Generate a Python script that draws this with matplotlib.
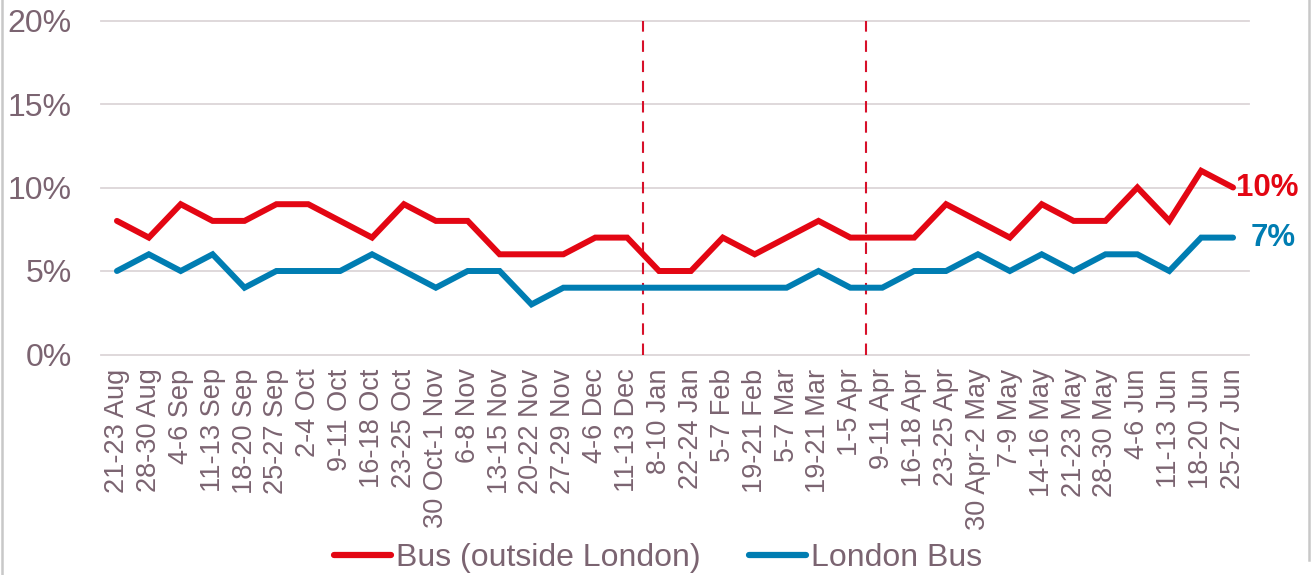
import matplotlib
matplotlib.use("Agg")
import matplotlib.pyplot as plt
from matplotlib.lines import Line2D

plt.rcParams['font.family'] = ['Liberation Sans', 'DejaVu Sans']

weeks = ["21-23 Aug", "28-30 Aug", "4-6 Sep", "11-13 Sep", "18-20 Sep", "25-27 Sep",
         "2-4 Oct", "9-11 Oct", "16-18 Oct", "23-25 Oct", "30 Oct-1 Nov", "6-8 Nov",
         "13-15 Nov", "20-22 Nov", "27-29 Nov", "4-6 Dec", "11-13 Dec", "8-10 Jan",
         "22-24 Jan", "5-7 Feb", "19-21 Feb", "5-7 Mar", "19-21 Mar", "1-5 Apr",
         "9-11 Apr", "16-18 Apr", "23-25 Apr", "30 Apr-2 May", "7-9 May", "14-16 May",
         "21-23 May", "28-30 May", "4-6 Jun", "11-13 Jun", "18-20 Jun", "25-27 Jun"]

bus_outside_london = [8, 7, 9, 8, 8, 9, 9, 8, 7, 9, 8, 8, 6, 6, 6, 7, 7, 5,
                      5, 7, 6, 7, 8, 7, 7, 7, 9, 8, 7, 9, 8, 8, 10, 8, 11, 10]
london_bus = [5, 6, 5, 6, 4, 5, 5, 5, 6, 5, 4, 5, 5, 3, 4, 4, 4, 4,
              4, 4, 4, 4, 5, 4, 4, 5, 5, 6, 5, 6, 5, 6, 6, 5, 7, 7]

# dashed markers placed between these category indices
dividers = [16.5, 23.5]

yticks = [0, 5, 10, 15, 20]
ytick_labels = ["0%", "5%", "10%", "15%", "20%"]

RED = "#E30613"
BLUE = "#007DB2"
TXT = "#7B6471"
GRID = "#DCD5D8"

W, H = 1313, 575
fig = plt.figure(figsize=(W / 100, H / 100), dpi=100)
ax = fig.add_axes([101 / W, 1 - 354.5 / H, (1249 - 101) / W, (354.5 - 20.5) / H])

x = list(range(len(weeks)))
ax.set_xlim(-0.5, len(weeks) - 0.5)
ax.set_ylim(0, 20)

for yv in yticks:
    ax.axhline(yv, color=GRID, lw=1.3, zorder=1, clip_on=False)

for d in dividers:
    ax.axvline(d, color="#D7102A", lw=1.5, ls=(0, (5.5, 4.2)), zorder=2)

ax.plot(x, bus_outside_london, color=RED, lw=4.3, solid_capstyle="round",
        solid_joinstyle="miter", zorder=3)
ax.plot(x, london_bus, color=BLUE, lw=4.3, solid_capstyle="round",
        solid_joinstyle="miter", zorder=3)

ax.annotate(f"{bus_outside_london[-1]}%", (x[-1], bus_outside_london[-1]),
            xytext=(2, 0), textcoords="offset points", ha="left", va="center",
            color=RED, fontsize=22.5, fontweight="bold")
ax.annotate(f"{london_bus[-1]}%", (x[-1], london_bus[-1]),
            xytext=(13, 0), textcoords="offset points", ha="left", va="center",
            color=BLUE, fontsize=22.5, fontweight="bold")

ax.set_yticks(yticks)
ax.set_yticklabels(ytick_labels, fontsize=23, color=TXT)
ax.set_xticks(x)
ax.set_xticklabels(weeks, rotation=90, fontsize=19.5, color=TXT, ha="center", va="top")
ax.tick_params(axis="both", length=0)
ax.tick_params(axis="y", pad=21)
ax.tick_params(axis="x", pad=10)
for s in ax.spines.values():
    s.set_visible(False)

handles = [Line2D([], [], color=RED, lw=4.5, solid_capstyle="round"),
           Line2D([], [], color=BLUE, lw=4.5, solid_capstyle="round")]
leg = fig.legend(handles, ["Bus (outside London)", "London Bus"], loc="center",
                 bbox_to_anchor=(658 / W, 1 - 558 / H), ncol=2, frameon=False,
                 fontsize=23, handlelength=1.8, handletextpad=0.15, columnspacing=1.5,
                 borderpad=0)
for t in leg.get_texts():
    t.set_color(TXT)

fig.add_artist(Line2D([1.5 / W, 1.5 / W], [0, 1], color="#C8C8C8", lw=1.8,
                      transform=fig.transFigure))
fig.add_artist(Line2D([1308.5 / W, 1308.5 / W], [1 - 560 / H, 1], color="#C8C8C8", lw=1.8,
                      transform=fig.transFigure))

fig.savefig("out.png", dpi=100)
